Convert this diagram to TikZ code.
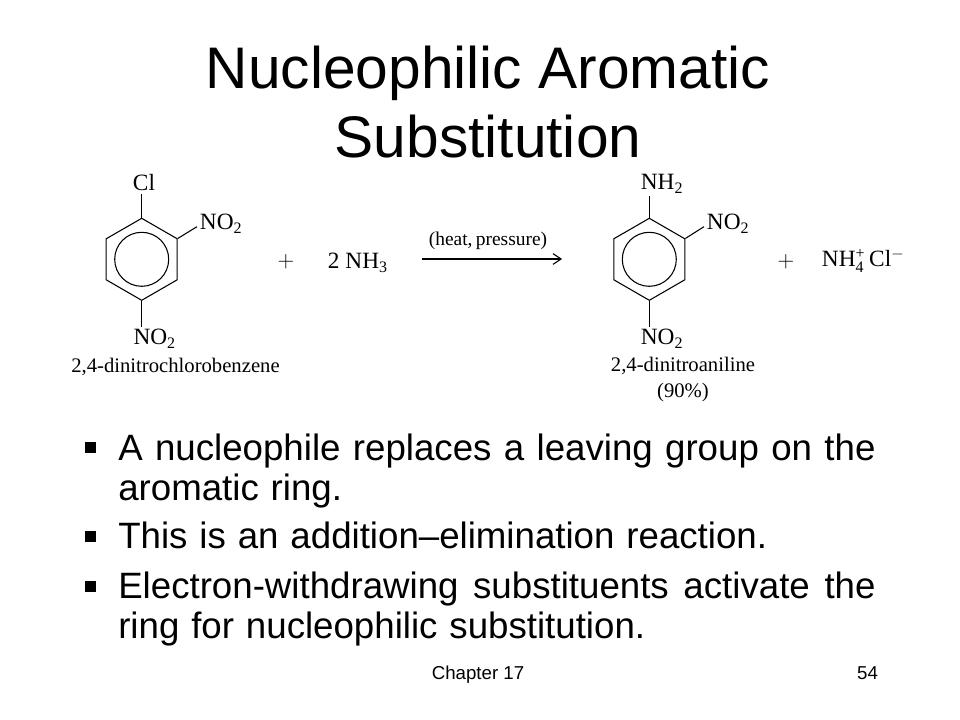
\documentclass[tikz,border=0pt]{standalone}
\usepackage{fontspec}
\setmainfont{Liberation Sans}
\newfontfamily\chemfont{Liberation Serif}
\usetikzlibrary{shapes.geometric,positioning,arrows.meta}
\def\low#1{$_{\hbox{\chemfont\fontsize{12}{12}\selectfont #1}}$}
\begin{document}
\begin{tikzpicture}[x=0.75pt,y=-0.75pt]
  \tikzset{ring/.style={regular polygon,regular polygon sides=6,shape border rotate=30,minimum size=82*0.75pt,inner sep=0pt,draw,line width=0.8pt},
    chem/.style={font=\chemfont\fontsize{17.5}{20}\selectfont,inner sep=2pt},
    chemname/.style={font=\chemfont\fontsize{15.5}{20}\selectfont,inner sep=0pt,align=center},
    bond/.style={line width=0.8pt,draw},
    point/.style={text width=568pt,inner sep=0pt,anchor=north west,align=justify,font=\fontsize{27.5}{29.5}\selectfont,execute at begin node={\spaceskip=0.325em plus 1em minus 0.15em\relax}},
    bullet/.style={fill=black,inner sep=0pt,minimum size=8.25pt},
    foot/.style={inner sep=0pt,anchor=base,font=\fontsize{14}{16}\selectfont}}
  \useasboundingbox[fill=white] (0,0) rectangle (960,720);
  \node[inner sep=0pt,align=center,font=\fontsize{44}{52}\selectfont] at (488,102) (TITLE) {Nucleophilic Aromatic\\Substitution};
  %left molecule
  \node[ring] at (141.7,259.3) (RINGA) {};
  \draw[line width=0.8pt] (RINGA.center) circle (27);
  \node[chem] at (144,183) (CL) {Cl};
  \node[chem,anchor=west] at (197,224) (NOA) {NO\low{2}};
  \node[chem] at (154.7,339) (NOB) {NO\low{2}};
  \node[chemname] at (175.5,366.5) (NAMEA) {2,4-dinitrochlorobenzene};
  \path[bond] (RINGA.corner 1) -- (RINGA.corner 1 |- CL.south);
  \path[bond] (RINGA.corner 6) -- ([yshift=-2pt]NOA.west);
  \path[bond] (RINGA.corner 4) -- (RINGA.corner 4 |- NOB.north);
  %reagents
  \node[chem] at (286,262) (PLUSA) {$+$};
  \node[chem,anchor=west] at (325,263) (AMMONIA) {2 NH\low{3}};
  \coordinate (ARROWA) at (422,259);
  \coordinate (ARROWB) at (562,259);
  \path[-{Straight Barb[length=6pt,width=8pt]},bond] (ARROWA) -- (ARROWB);
  \node[chemname,font=\chemfont\fontsize{14.6}{15}\selectfont] at (488,241) (HEAT) {(heat,\,pressure)};
  %right molecule
  \node[ring] at (649.3,259.3) (RINGB) {};
  \draw[line width=0.8pt] (RINGB.center) circle (27);
  \node[chem] at (662,184) (NH) {NH\low{2}};
  \node[chem,anchor=west] at (704,224) (NOC) {NO\low{2}};
  \node[chem] at (662,339) (NOD) {NO\low{2}};
  \node[chemname] at (683,379.5) (NAMEB) {2,4-dinitroaniline\\(90\%)};
  \path[bond] (RINGB.corner 1) -- (RINGB.corner 1 |- NH.south);
  \path[bond] (RINGB.corner 6) -- ([yshift=-2pt]NOC.west);
  \path[bond] (RINGB.corner 4) -- (RINGB.corner 4 |- NOD.north);
  \node[chem] at (786,262) (PLUSB) {$+$};
  \node[chem,anchor=west] at (819,261) (SALT) {NH$^{\hbox{\chemfont\fontsize{12}{12}\selectfont +}}_{\hbox{\chemfont\fontsize{12}{12}\selectfont 4}}$\,Cl$^-$};
  %points
  \node[point] at (118,434) (PA) {A nucleophile replaces a leaving group on the\linebreak aromatic ring.};
  \node[point] at (118,522) (PB) {This is an addition–elimination reaction.};
  \node[point] at (118,572) (PC) {Electron-withdrawing substituents activate the\linebreak ring for nucleophilic substitution.};
  \node[bullet] at (90.5,447.7) (MA) {};
  \node[bullet] at (90.5,536.7) (MB) {};
  \node[bullet] at (90.5,586.7) (MC) {};
  %footer
  \node[foot] at (478,679) (CHAPTER) {Chapter 17};
  \node[foot] at (867.5,679) (PAGE) {54};
\end{tikzpicture}
\end{document}
